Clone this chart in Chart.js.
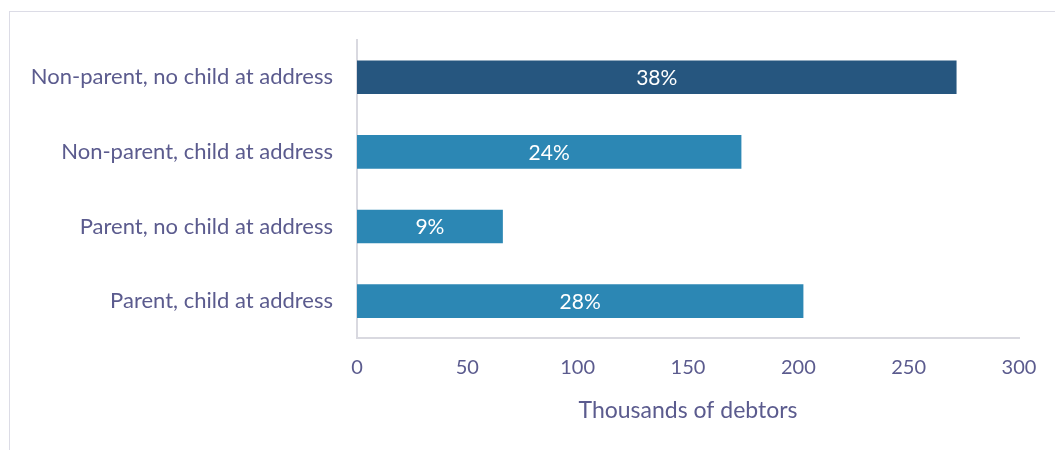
<!DOCTYPE html>
<html>
<head>
<meta charset="utf-8">
<script src="https://cdn.jsdelivr.net/npm/chart.js@4.4.1/dist/chart.umd.min.js"></script>
<style>
  html, body { margin: 0; padding: 0; background: #fff; }
  #wrap { position: relative; width: 1055px; height: 450px; overflow: hidden; }
  #frame { position: absolute; left: 9px; top: 11px; width: 1100px; height: 500px; border: 1px solid #dcdce6; }
  canvas { position: absolute; left: 0; top: 0; }
</style>
</head>
<body>
<div id="wrap">
  <div id="frame"></div>
  <canvas id="chart" width="1055" height="450"></canvas>
</div>
<script>
// Datos (miles de deudores)
const categorias = [
  'Non-parent, no child at address',
  'Non-parent, child at address',
  'Parent, no child at address',
  'Parent, child at address'
];
const deudores = [271.7, 174.2, 66.1, 202.3];
const porcentajes = ['38%', '24%', '9%', '28%'];
const ticksX = [0, 50, 100, 150, 200, 250, 300];

const azulOscuro = '#26567f';
const azulClaro = '#2c87b4';
const colorTexto = '#5b5b8e';
const colorEje = '#d9d9e0';
const fuente = 'Lato, "Open Sans", sans-serif';

/* Plugin simple para poner el porcentaje en el centro de cada barra */
const etiquetasBarras = {
  id: 'etiquetasBarras',
  afterDatasetsDraw(chart) {
    const ctx = chart.ctx;
    const meta = chart.getDatasetMeta(0);
    ctx.save();
    ctx.fillStyle = '#ffffff';
    ctx.font = '21px ' + fuente;
    ctx.textAlign = 'center';
    ctx.textBaseline = 'middle';
    meta.data.forEach((bar, i) => {
      const x = (bar.base + bar.x) / 2;
      ctx.fillText(porcentajes[i], x, bar.y + 1);
    });
    ctx.restore();
  }
};

new Chart(document.getElementById('chart'), {
  type: 'bar',
  data: {
    labels: categorias,
    datasets: [{
      data: deudores,
      backgroundColor: categorias.map((c, i) => i === 0 ? azulOscuro : azulClaro),
      borderWidth: 0,
      barPercentage: 0.45,
      categoryPercentage: 1
    }]
  },
  options: {
    indexAxis: 'y',
    responsive: false,
    animation: false,
    layout: { padding: { left: 0, right: 36, top: 40, bottom: 26 } },
    plugins: {
      legend: { display: false },
      tooltip: { enabled: false }
    },
    scales: {
      x: {
        min: 0,
        max: 300,
        afterBuildTicks: (s) => { s.ticks = ticksX.map(v => ({ value: v })); },
        grid: { display: false, drawTicks: false },
        border: { display: true, color: colorEje, width: 2 },
        ticks: { color: colorTexto, font: { family: fuente, size: 20 }, padding: 17 },
        title: {
          display: true,
          text: 'Thousands of debtors',
          color: colorTexto,
          font: { family: fuente, size: 23 },
          padding: { top: 0, bottom: 0 }
        }
      },
      y: {
        afterFit: (s) => { s.width = 357; },
        grid: { display: false, drawTicks: false },
        border: { display: true, color: colorEje, width: 2 },
        ticks: { color: colorTexto, font: { family: fuente, size: 22 }, padding: 24 }
      }
    }
  },
  plugins: [etiquetasBarras]
});
</script>
</body>
</html>
